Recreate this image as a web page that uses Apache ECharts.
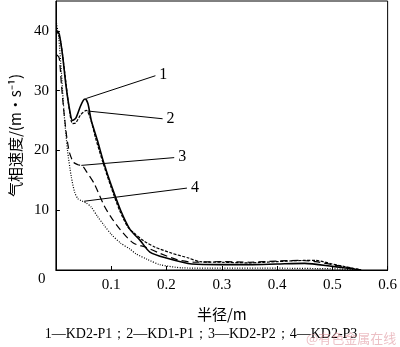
<!DOCTYPE html>
<html><head><meta charset="utf-8">
<script src="https://cdn.jsdelivr.net/npm/echarts@6/dist/echarts.min.js"></script>
<style>html,body{margin:0;padding:0;background:#fff}#c{width:400px;height:347px}</style>
</head><body><div id="c"></div>
<script>
// Series data (x = radius m, y = velocity m/s)
const kd2p1_x = [0.002,0.006,0.012,0.018,0.025,0.030,0.036,0.044,0.049,0.053,0.058,0.064,0.075,0.087,0.100,0.117,0.134,0.152,0.170,0.200,0.246,0.300,0.350,0.400,0.450,0.500,0.552];
const kd2p1_y = [40.0,39.5,36.0,31.0,26.7,25.0,25.4,27.3,28.3,28.6,27.8,25.0,21.7,17.8,14.2,10.0,6.8,5.0,3.0,2.0,1.0,0.9,0.9,1.0,1.1,0.6,0.0];

const kd1p1_x = [0.002,0.008,0.016,0.024,0.030,0.036,0.045,0.055,0.062,0.072,0.085,0.100,0.115,0.130,0.140,0.160,0.180,0.210,0.240,0.260,0.300,0.350,0.400,0.450,0.470,0.500,0.552];
const kd1p1_y = [40.0,38.5,33.0,27.0,24.5,24.6,26.0,26.7,25.5,22.0,18.0,13.8,10.0,7.2,6.3,4.8,3.8,2.8,2.0,1.4,1.3,1.2,1.4,1.6,1.6,1.0,0.0];

const kd2p2_x = [0.002,0.006,0.010,0.015,0.020,0.025,0.032,0.040,0.048,0.055,0.069,0.087,0.100,0.117,0.140,0.163,0.188,0.220,0.250,0.300,0.350,0.400,0.440,0.470,0.500,0.552];
const kd2p2_y = [36.0,35.5,31.0,26.0,22.0,19.5,18.0,17.6,17.4,16.5,14.5,10.8,8.8,6.7,4.5,3.8,2.8,1.7,1.3,1.4,1.3,1.5,1.6,1.4,0.9,0.0];

const kd2p3_x = [0.001,0.005,0.010,0.015,0.021,0.028,0.034,0.040,0.046,0.055,0.064,0.075,0.087,0.100,0.117,0.134,0.145,0.165,0.188,0.230,0.300,0.400,0.500,0.550];
const kd2p3_y = [41.3,39.0,33.0,26.0,20.0,15.5,13.0,11.9,11.6,11.2,10.5,9.0,7.5,6.0,4.5,3.5,2.7,1.8,0.9,0.35,0.3,0.3,0.2,0.0];

const xTicks = [0.1,0.2,0.3,0.4,0.5,0.6];
const yTicks = [10,20,30,40];

// Annotation leader lines: [x0,y0,x1,y1,label]
const leaders = [
  [0.055,28.7,0.180,32.5,'1'],
  [0.057,26.6,0.193,25.3,'2'],
  [0.046,17.5,0.214,18.8,'3'],
  [0.051,11.5,0.237,13.7,'4']
];
const caption = '1—KD2-P1；2—KD1-P1；3—KD2-P2；4—KD2-P3';

const zip = (xs, ys) => xs.map((x, i) => [x, ys[i]]);
const serif = '"Liberation Serif","Times New Roman",serif';

const chart = echarts.init(document.getElementById('c'), null, {renderer:'canvas'});
function mkSeries(name, xs, ys, type, width) {
  return {
    name, type:'line', data: zip(xs, ys), symbol:'none', smooth:0.25,
    lineStyle:{color:'#000', width, type}, z:3
  };
}
const s1 = mkSeries('KD2-P1', kd2p1_x, kd2p1_y, 'solid', 1.6);
const s2 = mkSeries('KD1-P1', kd1p1_x, kd1p1_y, [3,1.5], 1.2);
const s3 = mkSeries('KD2-P2', kd2p2_x, kd2p2_y, [7,4], 1.2);
const s4 = mkSeries('KD2-P3', kd2p3_x, kd2p3_y, [1,1.5], 1.2);
s1.markLine = {
  silent:true, symbol:['none','none'], animation:false,
  lineStyle:{color:'#000', width:1, type:'solid'},
  label:{show:true, position:'end', distance:4, color:'#000', fontFamily:serif, fontSize:16,
         formatter: p => p.data.name || ''},
  data: leaders.map(l => [{coord:[l[0],l[1]], name:l[4]},{coord:[l[2],l[3]]}])
};

chart.setOption({
  animation:false,
  grid:{left:51, right:10, top:1, bottom:77, show:true, borderColor:'#000', borderWidth:1},
  xAxis:{type:'value', min:0, max:0.6, interval:0.1,
    axisLine:{lineStyle:{color:'#000', width:1}},
    axisTick:{inside:true, length:4, lineStyle:{color:'#000'}},
    splitLine:{show:false},
    axisLabel:{color:'#000', fontFamily:serif, fontSize:15, margin:8,
      formatter: v => xTicks.some(t => Math.abs(t - v) < 1e-9) ? String(+v.toFixed(1)) : ''},
    name:'半径/m', nameLocation:'middle', nameGap:37,
    nameTextStyle:{color:'#000', fontSize:15, fontFamily:'"Noto Sans CJK SC",'+serif}
  },
  yAxis:{type:'value', min:0, max:45, interval:10,
    axisLine:{lineStyle:{color:'#000', width:1}},
    axisTick:{inside:true, length:4, lineStyle:{color:'#000'}},
    splitLine:{show:false},
    axisLabel:{color:'#000', fontFamily:serif, fontSize:15, margin:7, showMaxLabel:false,
      formatter: v => yTicks.includes(v) ? String(v) : ''},
    name:'气相速度/(m·s⁻¹)', nameLocation:'middle', nameGap:30, nameRotate:90,
    nameTextStyle:{color:'#000', fontSize:15, fontFamily:'"Noto Sans CJK SC",'+serif}
  },
  series:[s1, s2, s3, s4],
  graphic:[
    {type:'text', left:38, top:272, style:{text:'0', fill:'#000', font:'15px '+serif}},
    {type:'text', x:201, y:334, style:{text:caption, fill:'#000', font:'14px '+serif, textAlign:'center', textVerticalAlign:'middle'}},
    {type:'text', x:306, y:338, style:{text:'@有色金属在线', fill:'rgba(220,140,150,0.55)', font:'13px "Noto Sans CJK SC"', textVerticalAlign:'middle'}}
  ]
});
</script></body></html>
